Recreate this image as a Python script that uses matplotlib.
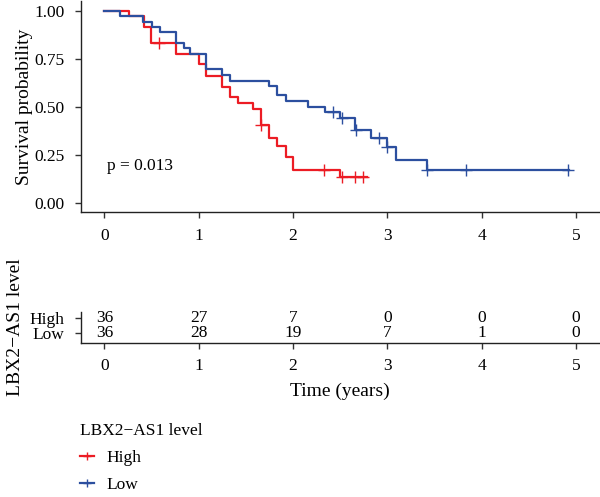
import matplotlib
matplotlib.use("Agg")
import matplotlib.pyplot as plt
from matplotlib.lines import Line2D
import numpy as np

plt.rcParams['font.family'] = ['Liberation Serif', 'DejaVu Serif']

# survival curves (step times, survival after each step)
high_times = [0, 0.26, 0.42, 0.49, 0.755, 1.0, 1.08, 1.25, 1.33, 1.42, 1.58,
              1.66, 1.75, 1.83, 1.92, 2.0, 2.50]
high_surv = [1.0, 0.972, 0.917, 0.834, 0.778, 0.724, 0.663, 0.605, 0.55, 0.522,
             0.489, 0.405, 0.336, 0.296, 0.237, 0.17, 0.132]
high_end = 2.78
high_censor = [0.58, 1.66, 2.33, 2.52, 2.66, 2.74]

low_times = [0, 0.164, 0.41, 0.50, 0.59, 0.76, 0.84, 0.91, 1.08, 1.25, 1.33,
             1.75, 1.83, 1.92, 2.16, 2.34, 2.50, 2.66, 2.83, 3.0, 3.09, 3.42]
low_surv = [1.0, 0.972, 0.944, 0.917, 0.889, 0.834, 0.805, 0.778, 0.696, 0.666,
            0.637, 0.609, 0.562, 0.53, 0.50, 0.475, 0.443, 0.379, 0.336, 0.292,
            0.225, 0.171]
low_end = 4.93
low_censor = [2.42, 2.52, 2.67, 2.91, 3.0, 3.42, 3.83, 4.92]

# numbers at risk
risk_times = [0, 1, 2, 3, 4, 5]
high_risk = [36, 27, 7, 0, 0, 0]
low_risk = [36, 28, 19, 7, 1, 0]

groups = ['High', 'Low']
colors = ['#EC1C24', '#2C4F9F']
p_text = 'p = 0.013'
strata_title = 'LBX2\u2212AS1 level'

curves = [(high_times, high_surv, high_end, high_censor),
          (low_times, low_surv, low_end, low_censor)]

fig = plt.figure(figsize=(6, 4.97), dpi=100)

# --- survival plot
ax = fig.add_axes([0.1348, 0.5728, 0.8645, 0.4244])
for (t, s, end, cens), col in zip(curves, colors):
    t = np.array(t)
    s = np.array(s)
    ax.step(np.append(t, end), np.append(s, s[-1]), where='post',
            color=col, lw=1.6)
    cy = s[np.searchsorted(t, cens, side='right') - 1]
    ax.plot(cens, cy, ls='none', marker='+', ms=8, mew=1.0, color=col)

ax.text(0.03, 0.19, p_text, fontsize=12.5, va='center', ha='left')
ax.set_xlim(-0.25, 5.25)
ax.set_ylim(-0.05, 1.05)
ax.set_xticks(risk_times)
ax.set_yticks([0, 0.25, 0.5, 0.75, 1.0])
ax.set_yticklabels(['0.00', '0.25', '0.50', '0.75', '1.00'])
ax.set_ylabel('Survival probability', fontsize=14, labelpad=1)

# --- risk table
axr = fig.add_axes([0.1348, 0.3099, 0.8645, 0.0630])
for row, (nums, col) in enumerate(zip([high_risk, low_risk], colors)):
    y = 1 - row
    for tt, n in zip(risk_times, nums):
        axr.text(tt, y, str(n), ha='center', va='center', fontsize=12.5)
axr.set_xlim(-0.25, 5.25)
axr.set_ylim(-0.65, 1.45)
axr.set_xticks(risk_times)
axr.set_yticks([1, 0])
axr.set_yticklabels(groups)
for lab, col in zip(axr.get_yticklabels(), colors):
    lab.set_color(col)
axr.set_xlabel('Time (years)', fontsize=14, labelpad=6)
axr.set_ylabel(strata_title, fontsize=14, labelpad=4)

for a in (ax, axr):
    for side in ('top', 'right'):
        a.spines[side].set_visible(False)
    for side in ('left', 'bottom'):
        a.spines[side].set_linewidth(1.0)
        a.spines[side].set_color('#222222')
    a.tick_params(length=4, width=1.0, color='#333333', labelsize=12.5,
                  labelcolor='black')
    a.tick_params(axis='x', pad=7)
    a.tick_params(axis='y', pad=8)

# --- legend
handles = [Line2D([], [], color=c, lw=1.6, marker='+', ms=6, mew=1.0)
           for c in colors]
fig.legend(handles, groups, title=strata_title, loc='upper left',
           bbox_to_anchor=(0.108, 0.18), frameon=False, fontsize=12.5,
           title_fontsize=12.5, alignment='left', handlelength=0.8,
           handletextpad=0.7, labelspacing=0.62)

fig.savefig('out.png', dpi=100)
